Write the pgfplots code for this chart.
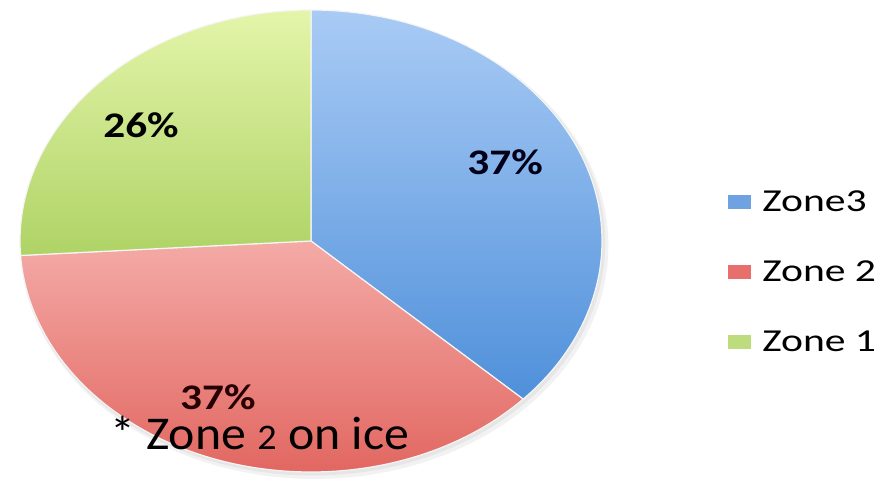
\documentclass[border=0pt]{standalone}
\usepackage{pgfplots}
\pgfplotsset{compat=1.18}
\usepackage{fontspec}
\setmainfont{Carlito}
\definecolor{blueT}{HTML}{A9CBF5}
\definecolor{blueB}{HTML}{4F90DA}
\definecolor{redT}{HTML}{F4AAA6}
\definecolor{redB}{HTML}{E0605A}
\definecolor{greenT}{HTML}{E4F5AA}
\definecolor{greenB}{HTML}{AFD366}
\definecolor{legblue}{HTML}{6FA2E0}
\definecolor{legred}{HTML}{E8706C}
\definecolor{leggreen}{HTML}{BCDC7E}
% data (percent)
\def\va{37}% Zone3
\def\vb{37}% Zone 2
\def\vc{26}% Zone 1
\pgfmathsetmacro\total{\va+\vb+\vc}
\pgfmathsetmacro\aA{90}
\pgfmathsetmacro\aB{90-360*\va/\total}
\pgfmathsetmacro\aC{\aB-360*\vb/\total}
\pgfmathsetmacro\aD{\aC-360*\vc/\total}
\begin{document}
\begin{tikzpicture}[x=1bp,y=1bp]
\path[use as bounding box] (0,0) rectangle (889,482);
\begin{axis}[scale only axis, width=582bp, height=462bp,
  xmin=-1,xmax=1,ymin=-1,ymax=1, hide axis, clip=false,
  at={(20bp,10bp)}, anchor=south west]
% soft shadow
\fill[black, opacity=0.05] (axis cs:0.012,-0.02) ellipse [x radius=1.01, y radius=1.01];
\fill[black, opacity=0.05] (axis cs:0.006,-0.01) ellipse [x radius=1.005, y radius=1.005];
\path[top color=blueT, bottom color=blueB, draw=white!92!gray, line width=1.2bp]
  (axis cs:0,0) -- (axis cs:{cos(\aA)},{sin(\aA)}) arc[start angle=\aA, end angle=\aB, x radius=1, y radius=1] -- cycle;
\path[top color=redT, bottom color=redB, draw=white!92!gray, line width=1.2bp]
  (axis cs:0,0) -- (axis cs:{cos(\aB)},{sin(\aB)}) arc[start angle=\aB, end angle=\aC, x radius=1, y radius=1] -- cycle;
\path[top color=greenT, bottom color=greenB, draw=white!92!gray, line width=1.2bp]
  (axis cs:0,0) -- (axis cs:{cos(\aC)},{sin(\aC)}) arc[start angle=\aC, end angle=\aD, x radius=1, y radius=1] -- cycle;
\node[inner sep=0pt, font=\fontsize{36bp}{40bp}\selectfont\bfseries, text=black!90!blue, xscale=1.2] at (axis cs:0.667,0.342) {\va\%};
\node[inner sep=0pt, font=\fontsize{36bp}{40bp}\selectfont\bfseries, text=black!85!red, xscale=1.2] at (axis cs:-0.320,-0.675) {\vb\%};
\node[inner sep=0pt, font=\fontsize{36bp}{40bp}\selectfont\bfseries, text=black, xscale=1.2] at (axis cs:-0.584,0.502) {\vc\%};
\end{axis}
\node[anchor=base west, inner sep=0pt, xscale=1.06, font=\fontsize{47bp}{50bp}\selectfont] at (110,32) {* Zone {\fontsize{36bp}{40bp}\selectfont 2} on ice};
% legend
\fill[legblue] (728,273) rectangle (751,287);
\node[anchor=base west, inner sep=0pt, xscale=1.3, font=\fontsize{32bp}{36bp}\selectfont] at (762,270) {Zone3};
\fill[legred] (728,203) rectangle (751,217);
\node[anchor=base west, inner sep=0pt, xscale=1.3, font=\fontsize{32bp}{36bp}\selectfont] at (762,200) {Zone 2};
\fill[leggreen] (728,133) rectangle (751,147);
\node[anchor=base west, inner sep=0pt, xscale=1.3, font=\fontsize{32bp}{36bp}\selectfont] at (762,130) {Zone 1};
\end{tikzpicture}
\end{document}
